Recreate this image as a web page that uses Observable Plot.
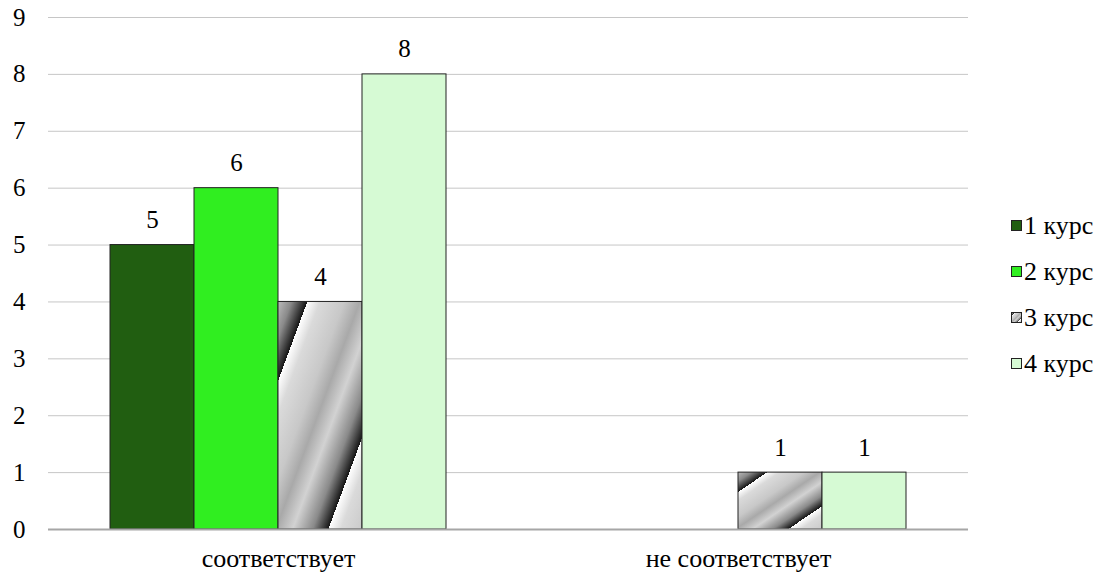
<!DOCTYPE html>
<html>
<head>
<meta charset="utf-8">
<script src="https://cdn.jsdelivr.net/npm/d3@7"></script>
<script src="https://cdn.jsdelivr.net/npm/@observablehq/plot@0.6"></script>
<style>
  html, body { margin: 0; padding: 0; background: #fff; }
  #wrap { position: relative; width: 1110px; height: 577px; font-family: 'Liberation Serif', 'Times New Roman', serif; }
  #chart svg, #chart svg text { font-family: 'Liberation Serif', 'Times New Roman', serif !important; }
  #legend { position: absolute; left: 1011px; top: 203px; font-size: 26px; color: #000; line-height: 1; }
  .item { display: flex; align-items: center; height: 46px; }
  .item svg { margin-right: 1px; }
</style>
</head>
<body>
<svg width="0" height="0" style="position:absolute">
  <defs>
    <linearGradient id="hatch" gradientUnits="objectBoundingBox" x1="0.175" y1="0.175" x2="0.8" y2="0.8" spreadMethod="repeat">
      <stop offset="0" stop-color="#ffffff"/>
      <stop offset="0.12" stop-color="#dadada"/>
      <stop offset="0.35" stop-color="#c8c8c8"/>
      <stop offset="0.5" stop-color="#a9a9a9"/>
      <stop offset="0.66" stop-color="#d2d2d2"/>
      <stop offset="0.85" stop-color="#8a8a8a"/>
      <stop offset="1" stop-color="#151515"/>
    </linearGradient>
  </defs>
</svg>
<div id="wrap">
  <div id="chart"></div>
  <div id="legend"></div>
</div>
<script>
const categories = ["соответствует", "не соответствует"];
const courses = ["1 курс", "2 курс", "3 курс", "4 курс"];
const course1 = [5, 0];
const course2 = [6, 0];
const course3 = [4, 1];
const course4 = [8, 1];
const yTicks = [0, 1, 2, 3, 4, 5, 6, 7, 8, 9];
const fills = ["#215e11", "#30ee20", "url(#hatch)", "#d6fad4"];

const series = [course1, course2, course3, course4];
const data = [];
categories.forEach((cat, i) => {
  courses.forEach((c, j) => {
    data.push({cat, course: c, value: series[j][i]});
  });
});
const shown = data.filter(d => d.value > 0);

const chart = Plot.plot({
  width: 1110,
  height: 577,
  marginLeft: 48,
  marginRight: 142,
  marginTop: 17,
  marginBottom: 48,
  style: "font-family: 'Liberation Serif', 'Times New Roman', serif; color: #000; background: #fff;",
  fx: {domain: categories, padding: 0, label: null},
  x: {domain: courses, paddingInner: 0, paddingOuter: 0.738, axis: null},
  y: {domain: [0, 9], axis: null},
  color: {domain: courses, range: fills},
  marks: [
    Plot.gridY(yTicks, {stroke: "#c6c6c6", strokeOpacity: 1}),
    Plot.axisY(yTicks, {tickSize: 0, tickPadding: 23, fontSize: 25, line: true, stroke: "#c6c6c6", fill: "#000", label: null, tickFormat: d => String(d)}),
    Plot.axisFx({anchor: "bottom", tickSize: 0, tickPadding: 19, fontSize: 26, fill: "#000", label: null}),
    Plot.barY(shown, {fx: "cat", x: "course", y: "value", fill: "course", stroke: "#222", strokeWidth: 1}),
    Plot.ruleY([0], {stroke: "#a6a6a6", strokeWidth: 2}),
    Plot.text(shown, {fx: "cat", x: "course", y: "value", text: d => String(d.value), dy: -25, fontSize: 25, fill: "#000"})
  ]
});
document.getElementById("chart").appendChild(chart);

const legend = document.getElementById("legend");
courses.forEach((c, j) => {
  const item = document.createElement("div");
  item.className = "item";
  item.innerHTML = `<svg width="12" height="12"><rect x="0.5" y="0.5" width="10" height="10" fill="${fills[j]}" stroke="#222" stroke-width="1"/></svg><span>${c}</span>`;
  legend.appendChild(item);
});
</script>
</body>
</html>
